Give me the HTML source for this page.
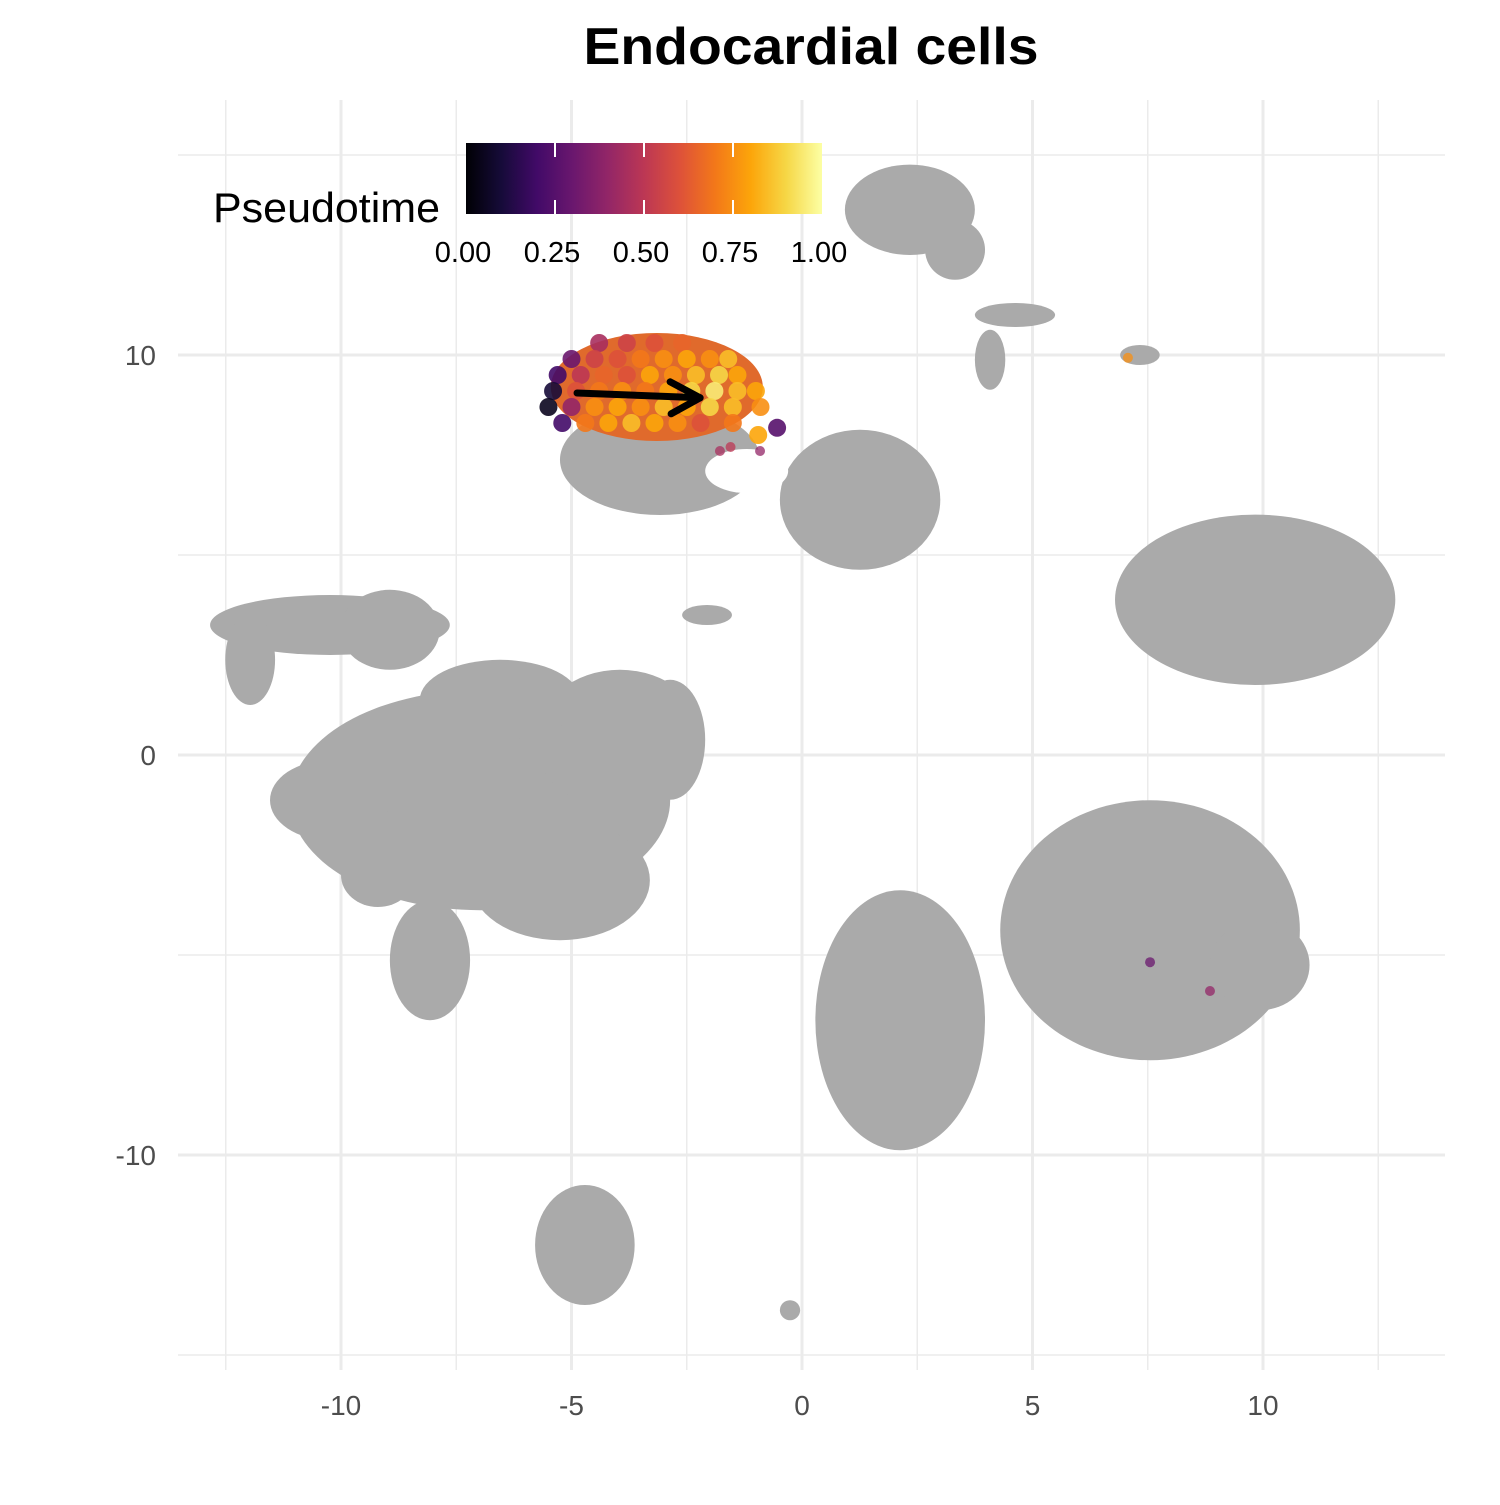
<!DOCTYPE html>
<html><head><meta charset="utf-8"><style>
body{margin:0;background:#fff}
svg text{font-family:"Liberation Sans",sans-serif}
</style></head><body>
<svg id="chart" width="1500" height="1500" viewBox="0 0 1500 1500" xmlns="http://www.w3.org/2000/svg">
<rect width="1500" height="1500" fill="#fff"/>
<text x="811" y="64" text-anchor="middle" font-size="52" font-weight="bold" textLength="455" lengthAdjust="spacingAndGlyphs">Endocardial cells</text>
<g id="grid"></g><g id="blobs"></g><g id="pts"></g><g id="arrow"></g><g id="axes"></g>
<g>
<defs><linearGradient id="inf" x1="0" x2="1" y1="0" y2="0">
<stop offset="0" stop-color="#000004"/><stop offset="0.1" stop-color="#160b39"/><stop offset="0.2" stop-color="#420a68"/><stop offset="0.3" stop-color="#6a176e"/><stop offset="0.4" stop-color="#932667"/><stop offset="0.5" stop-color="#bc3754"/><stop offset="0.6" stop-color="#dd513a"/><stop offset="0.7" stop-color="#f37819"/><stop offset="0.8" stop-color="#fca50a"/><stop offset="0.9" stop-color="#f6d746"/><stop offset="1" stop-color="#fcffa4"/></linearGradient></defs>
<text x="213" y="222" font-size="42" textLength="227" lengthAdjust="spacingAndGlyphs">Pseudotime</text>
<rect x="466" y="143" width="356" height="71" fill="url(#inf)"/>
<g id="cbticks"></g>
</g>
</svg>
<script>
const NS="http://www.w3.org/2000/svg";
const xTicks=[-10,-5,0,5,10];
const xMinor=[-12.5,-7.5,-2.5,2.5,7.5,12.5];
const yTicks=[-10,0,10];
const yMinor=[-15,-5,5,15];
const legendTicks=[0,0.25,0.5,0.75,1];
// gray background clusters: [cx, cy, rx, ry] in UMAP units
const blobs=[[-6.98,-1.13,4.12,2.75],[-3.95,0.38,1.84,1.75],[-2.86,0.38,0.76,1.5],[-6.55,1.38,1.74,1.0],[-5.25,-3.13,1.95,1.5],[-8.07,-5.13,0.87,1.5],
[-10.24,3.25,2.6,0.75],[-11.97,2.38,0.54,1.13],[-8.94,3.13,1.08,1.0],[-10.24,-1.13,1.3,1.0],[-9.2,-3.0,0.8,0.8],
[-3.08,7.38,2.17,1.38],[1.26,6.38,1.74,1.75],[2.34,13.63,1.41,1.13],[3.32,12.63,0.65,0.75],[4.62,11.0,0.87,0.3],[4.08,9.88,0.33,0.75],[7.33,10.0,0.43,0.25],[-2.06,3.5,0.54,0.25],
[9.83,3.88,3.04,2.13],[7.55,-4.38,3.25,3.25],[9.93,-5.25,1.08,1.13],[2.13,-6.63,1.84,3.25],[-4.71,-12.25,1.08,1.5],[-0.26,-13.88,0.22,0.25]];
const holes=[[-1.2,7.1,0.9,0.55]];
// endocardial cells: x, y, pseudotime
const cellX=[-4.4,-3.8,-3.2,-2.6,-5.0,-4.5,-4.0,-3.5,-3.0,-2.5,-2.0,-1.6,-5.3,-4.8,-4.3,-3.8,-3.3,-2.8,-2.3,-1.8,-1.4,-5.4,-4.9,-4.4,-3.9,-3.4,-2.9,-2.4,-1.9,-1.4,-1.0,-5.5,-5.0,-4.5,-4.0,-3.5,-3.0,-2.5,-2.0,-1.5,-0.9,-5.2,-4.7,-4.2,-3.7,-3.2,-2.7,-2.2,-1.5,-1.78,-1.55,-0.91,-0.95,-0.54,7.07,7.55,8.85];
const cellY=[10.3,10.3,10.3,10.3,9.9,9.9,9.9,9.9,9.9,9.9,9.9,9.9,9.5,9.5,9.5,9.5,9.5,9.5,9.5,9.5,9.5,9.1,9.1,9.1,9.1,9.1,9.1,9.1,9.1,9.1,9.1,8.7,8.7,8.7,8.7,8.7,8.7,8.7,8.7,8.7,8.7,8.3,8.3,8.3,8.3,8.3,8.3,8.3,8.3,7.6,7.7,7.6,8.0,8.18,9.93,-5.18,-5.9];
const cellT=[0.45,0.55,0.6,0.65,0.3,0.55,0.6,0.7,0.75,0.8,0.75,0.85,0.2,0.5,0.65,0.6,0.8,0.75,0.85,0.9,0.8,0.1,0.6,0.7,0.75,0.7,0.8,0.9,0.95,0.85,0.8,0.05,0.4,0.75,0.8,0.75,0.85,0.8,0.9,0.85,0.75,0.2,0.7,0.8,0.85,0.8,0.75,0.6,0.7,0.45,0.5,0.4,0.8,0.25,0.75,0.3,0.4];
const arrowFrom=[-4.88,9.05], arrowTo=[-2.21,8.93];
const X=v=>802+v*46.1, Y=v=>755-v*40;
const L=v=>466+v*356;
const infernoStops=[[0,0,4],[22,11,57],[66,10,104],[106,23,110],[147,38,103],[188,55,84],[221,81,58],[243,120,25],[252,165,10],[246,215,70],[252,255,164]];
function inferno(t){t=Math.max(0,Math.min(1,t))*10;const i=Math.min(9,Math.floor(t)),f=t-i,a=infernoStops[i],b=infernoStops[i+1];return`rgb(${a.map((c,k)=>Math.round(c+(b[k]-c)*f)).join(',')})`;}
function mk(tag,attrs,parent){const e=document.createElementNS(NS,tag);for(const k in attrs)e.setAttribute(k,attrs[k]);parent.appendChild(e);return e;}
const grid=document.getElementById('grid');
xMinor.concat(xTicks).forEach(v=>{const l=mk('line',{x1:X(v),x2:X(v),y1:100,y2:1370,stroke:'#ebebeb','stroke-width':xTicks.includes(v)?3:1.5},grid);

});
yMinor.concat(yTicks).forEach(v=>{const l=mk('line',{x1:178,x2:1445,y1:Y(v),y2:Y(v),stroke:'#ebebeb','stroke-width':yTicks.includes(v)?3:1.5},grid);

});
const bg=document.getElementById('blobs');
blobs.forEach(b=>{const e=mk('ellipse',{cx:X(b[0]),cy:Y(b[1]),rx:b[2]*46.1,ry:b[3]*40,fill:'#aaaaaa'},bg);

});
holes.forEach(b=>{const e=mk('ellipse',{cx:X(b[0]),cy:Y(b[1]),rx:b[2]*46.1,ry:b[3]*40,fill:'#fff'},bg);

});
const pg=document.getElementById('pts');
const base=mk('ellipse',{cx:X(-3.15),cy:Y(9.2),rx:2.3*46.1,ry:1.35*40,fill:'#e06a2c'},pg);


cellX.forEach((x,i)=>{const inMain=cellY[i]>7.9&&x<0;const c=mk('circle',{cx:X(x),cy:Y(cellY[i]),r:inMain?9:5,fill:inferno(cellT[i]),'fill-opacity':inMain?0.9:0.75},pg);

});
const ag=document.getElementById('arrow');
const ax1=X(arrowFrom[0]),ay1=Y(arrowFrom[1]),ax2=X(arrowTo[0]),ay2=Y(arrowTo[1]);
const al=mk('line',{x1:ax1,y1:ay1,x2:ax2,y2:ay2,stroke:'#000','stroke-width':7,'stroke-linecap':'round'},ag);


const ah=mk('polyline',{points:`${ax2-30},${ay2-16} ${ax2},${ay2} ${ax2-29},${ay2+16}`,fill:'none',stroke:'#000','stroke-width':7,'stroke-linecap':'round','stroke-linejoin':'round'},ag);


const axg=document.getElementById('axes');
xTicks.forEach(v=>{const t=mk('text',{x:X(v),y:1415,'text-anchor':'middle','font-size':28,fill:'#4d4d4d'},axg);t.textContent=v;

});
yTicks.forEach(v=>{const t=mk('text',{x:156,y:Y(v)+10,'text-anchor':'end','font-size':28,fill:'#4d4d4d'},axg);t.textContent=v;

});
const cb=document.getElementById('cbticks');
legendTicks.forEach(v=>{if(v>0&&v<1){mk('line',{x1:L(v),x2:L(v),y1:143,y2:157,stroke:'#fff','stroke-width':2},cb);mk('line',{x1:L(v),x2:L(v),y1:200,y2:214,stroke:'#fff','stroke-width':2},cb);}
const t=mk('text',{x:L(v)-3,y:262,'text-anchor':'middle','font-size':29,fill:'#000'},cb);t.textContent=v.toFixed(2);

});
</script>
</body></html>
